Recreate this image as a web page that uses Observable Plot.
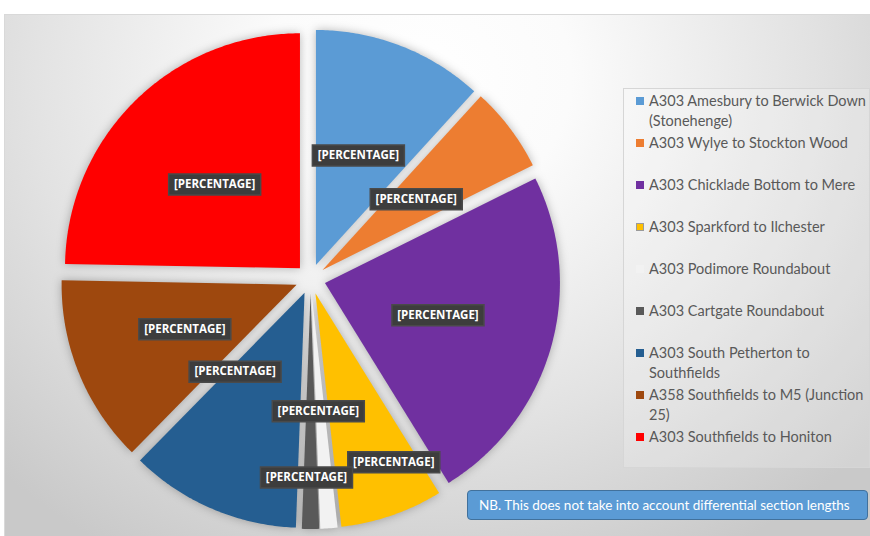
<!DOCTYPE html>
<html><head><meta charset="utf-8">
<script src="https://cdn.jsdelivr.net/npm/d3@7"></script>
<script src="https://cdn.jsdelivr.net/npm/@observablehq/plot@0.6"></script>
<style>
html,body{margin:0;padding:0;background:#fff;}
#wrap{position:relative;width:870px;height:536px;overflow:hidden;font-family:Lato,"Open Sans",sans-serif;}
#bg{position:absolute;left:4px;top:14px;right:0;bottom:0;border-top:1px solid #d9d9d9;border-left:1px solid #d9d9d9;
 background:radial-gradient(ellipse 70% 105% at 48% 12%, #ffffff 0%, #fbfbfb 25%, #e2e2e2 65%, #c9c9c9 100%);}
#chart{position:absolute;left:0;top:0;}
#legend{position:absolute;left:623px;top:88px;width:247px;height:380px;border:1px solid #d6d6d6;background:rgba(255,255,255,0.2);box-sizing:border-box;}
.item{position:absolute;left:12px;width:222px;font-size:14.5px;line-height:20px;color:#595959;padding-left:13px;}
.sw{position:absolute;left:0;top:6px;width:8px;height:8px;box-sizing:border-box;}
#note{position:absolute;left:467px;top:490px;width:401px;height:30px;box-sizing:border-box;background:#5b9bd5;border:1px solid #41719c;border-radius:4px;color:#fff;font-size:13.5px;line-height:28px;padding-left:11px;white-space:nowrap;}
</style></head>
<body>
<div id="wrap"><div id="bg"></div><div id="chart"></div><div id="legend"></div>
<div id="note">NB. This does not take into account differential section lengths</div></div>
<script>
const names = [
  "A303 Amesbury to Berwick Down (Stonehenge)",
  "A303 Wylye to Stockton Wood",
  "A303 Chicklade Bottom to Mere",
  "A303 Sparkford to Ilchester",
  "A303 Podimore Roundabout",
  "A303 Cartgate Roundabout",
  "A303 South Petherton to Southfields",
  "A358 Southfields to M5 (Junction 25)",
  "A303 Southfields to Honiton"
];
const values = [10, 5, 20, 6, 1, 1, 10, 11, 21];
const colors = ["#5b9bd5","#ed7d31","#7030a0","#ffc000","#f2f2f2","#595959","#255e91","#9e480e","#ff0000"];
const labelText = "[PERCENTAGE]";

const arcs = d3.pie().sort(null).value(d => d)(values);
const explode = 0.064;
const slicePts = [];
const labelPts = [];
arcs.forEach((a, i) => {
  const mid = (a.startAngle + a.endAngle) / 2;
  const ox = explode * Math.sin(mid), oy = explode * Math.cos(mid);
  slicePts.push({name: names[i], x: ox, y: oy});
  const n = Math.max(2, Math.ceil((a.endAngle - a.startAngle) / 0.01));
  for (let k = 0; k <= n; k++) {
    const t = a.startAngle + (a.endAngle - a.startAngle) * k / n;
    slicePts.push({name: names[i], x: ox + Math.sin(t), y: oy + Math.cos(t)});
  }
  labelPts.push({name: names[i], x: (0.5 + explode) * Math.sin(mid), y: (0.5 + explode) * Math.cos(mid)});
});

// manual label nudges (pixels), as in the reference
const nudge = {
  "A303 Sparkford to Ilchester": [40, 58],
  "A303 Cartgate Roundabout": [-4, 66],
  "A303 Podimore Roundabout": [-2, 0],
  "A303 South Petherton to Southfields": [-23, -29],
  "A358 Southfields to M5 (Junction 25)": [-3, 0],
  "A303 Southfields to Honiton": [-3, 0]
};
const boxSymbol = {draw(ctx) { ctx.rect(-46, -10.5, 92, 21); }};
const labelMarks = labelPts.map(d => {
  const [dx, dy] = nudge[d.name] || [0, 0];
  return [
    Plot.dot([d], {x: "x", y: "y", r: 1, symbol: boxSymbol, fill: "#3d3d3d", stroke: "#4a4a4a", dx, dy}),
    Plot.text([d], {x: "x", y: "y", text: () => labelText, fill: "white", fontWeight: "bold", fontSize: 11.5, fontFamily: "'Open Sans', sans-serif", dx, dy})
  ];
}).flat();

const chart = Plot.plot({
  width: 870, height: 536,
  marginLeft: 60, marginRight: 310, marginTop: 28.5, marginBottom: 7.5,
  x: {domain: [-1.064, 1.064], axis: null},
  y: {domain: [-1.064, 1.064], axis: null},
  color: {domain: names, range: colors},
  style: {background: "transparent", overflow: "visible"},
  marks: [
    Plot.line(slicePts, {x: "x", y: "y", z: "name", fill: "name", stroke: null, curve: "linear-closed"}),
    ...labelMarks
  ]
});
const lineG = chart.querySelector('g[aria-label="line"]');
if (lineG) lineG.style.filter = "drop-shadow(0px 0px 5px rgba(0,0,0,0.28))";
document.getElementById("chart").appendChild(chart);

const legend = d3.select("#legend");
names.forEach((nm, i) => {
  const it = legend.append("div").attr("class", "item").style("top", (2 + i * 42) + "px");
  it.append("div").attr("class", "sw").style("background", colors[i])
    .style("border", nm === "A303 Sparkford to Ilchester" ? "1px solid #9a9a9a" : null);
  it.append("span").text(nm);
});
</script>
</body></html>
